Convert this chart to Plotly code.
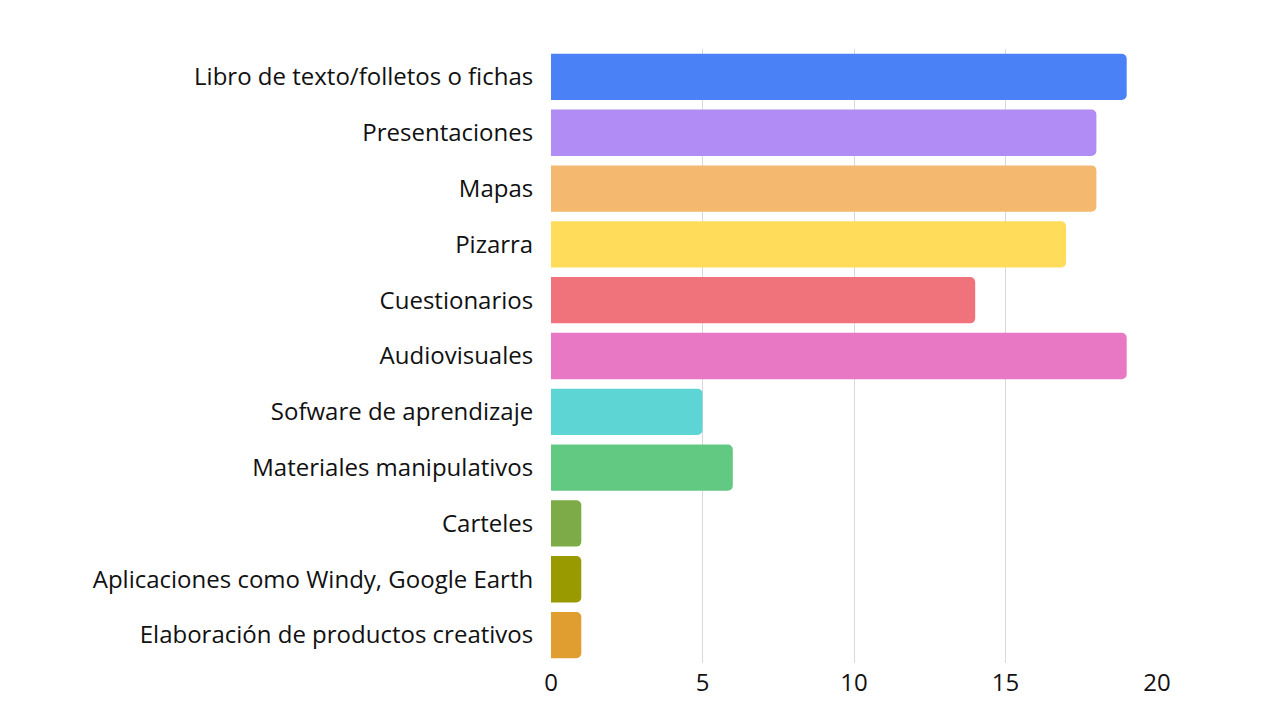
import plotly.graph_objects as go

categories = [
    "Libro de texto/folletos o fichas",
    "Presentaciones",
    "Mapas",
    "Pizarra",
    "Cuestionarios",
    "Audiovisuales",
    "Sofware de aprendizaje",
    "Materiales manipulativos",
    "Carteles",
    "Aplicaciones como Windy, Google Earth",
    "Elaboración de productos creativos",
]
values = [19, 18, 18, 17, 14, 19, 5, 6, 1, 1, 1]
colors = [
    "#4a81f7", "#b08cf4", "#f4b86e", "#ffdd5a", "#f0727a", "#e878c3",
    "#5ed5d5", "#62c983", "#7cab48", "#999900", "#e09e30",
]

fig = go.Figure(go.Bar(
    x=values,
    y=categories,
    orientation="h",
    marker=dict(color=colors, line=dict(width=0)),
    hoverinfo="x+y",
))

# page body adds an 8px offset, so margins are shifted to compensate
fig.update_layout(
    width=1265, height=711,
    margin=dict(l=543, r=116, t=41, b=56),
    paper_bgcolor="white", plot_bgcolor="white",
    font=dict(family="Open Sans", size=24, color="#111111"),
    bargap=0.17,
    barcornerradius=5,
    showlegend=False,
)
fig.update_xaxes(
    range=[0, 20], tickvals=[0, 5, 10, 15, 20],
    showgrid=True, gridcolor="#d9d9d9", gridwidth=1,
    zeroline=False, showline=False, ticks="",
    ticklabelstandoff=3,
)
fig.update_yaxes(
    autorange="reversed", showgrid=False, zeroline=False,
    ticks="outside", ticklen=12, tickcolor="white",
)

fig.write_html("out.html")
